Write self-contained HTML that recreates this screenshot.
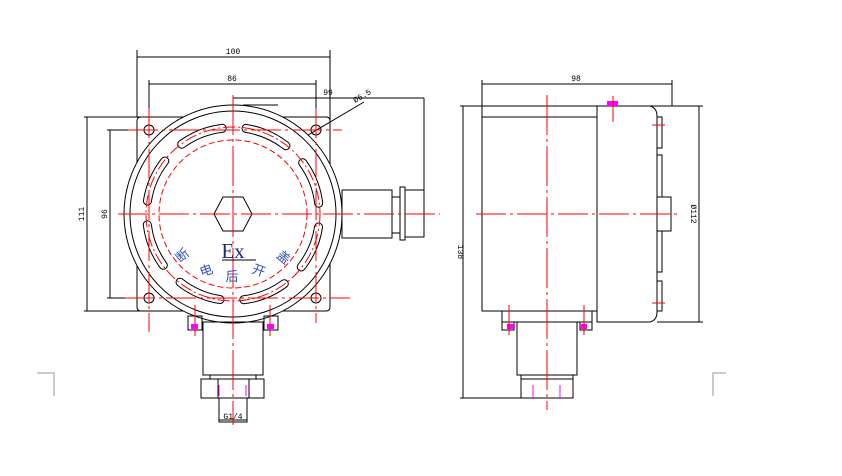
<!DOCTYPE html>
<html><head><meta charset="utf-8"><style>
html,body{margin:0;padding:0;background:#fff;width:842px;height:476px;overflow:hidden}
svg{display:block}
text{font-family:"Liberation Mono",monospace}
</style></head><body>
<svg width="842" height="476" viewBox="0 0 842 476" xmlns="http://www.w3.org/2000/svg">
<g fill="none" stroke="#000" stroke-width="1">
<polyline points="37,373 54,373 54,396" stroke="#999"/>
<polyline points="726,373 713,373 713,396" stroke="#999"/>

<line x1="137" y1="57" x2="330" y2="57"/>
<line x1="137" y1="50" x2="137" y2="117"/>
<line x1="330" y1="50" x2="330" y2="120"/>
<line x1="149" y1="84" x2="316" y2="84"/>
<line x1="149" y1="80" x2="149" y2="125"/>
<line x1="316" y1="80" x2="316" y2="125"/>
<line x1="233" y1="98" x2="424" y2="98"/>
<line x1="424" y1="98" x2="424" y2="237"/>
<line x1="233" y1="95" x2="233" y2="105"/>
<line x1="243" y1="105" x2="278" y2="105"/>
<line x1="364" y1="102" x2="303" y2="138"/>
<line x1="87" y1="117" x2="87" y2="311"/>
<line x1="84" y1="117" x2="140" y2="117"/>
<line x1="84" y1="311" x2="140" y2="311"/>
<line x1="110" y1="130" x2="110" y2="298"/>
<line x1="107" y1="130" x2="145" y2="130"/>
<line x1="107" y1="298" x2="145" y2="298"/>

<path d="M141,117 L326,117 Q330,117 330,121 L330,307 Q330,311 326,311 L141,311 Q137,311 137,307 L137,121 Q137,117 141,117Z"/>
<circle cx="233" cy="214" r="109" fill="#fff"/>
<circle cx="233" cy="214" r="103"/>
<circle cx="149" cy="130" r="5"/><circle cx="316" cy="130" r="5"/>
<circle cx="149" cy="298" r="5"/><circle cx="316" cy="298" r="5"/>
<polygon points="214,214 223,197 243,197 252,214 243,231 223,231"/>
<rect x="342" y="190" width="50" height="48" fill="#fff"/>
<rect x="392" y="197" width="8" height="36"/>
<rect x="400" y="187" width="5" height="53"/>
<rect x="405" y="190" width="19" height="47"/>
<rect x="188" y="316" width="14" height="14"/>
<rect x="264" y="316" width="14" height="14"/>
<rect x="203" y="322" width="60" height="53"/>
<rect x="210" y="375" width="46" height="4"/>
<rect x="201" y="379" width="63" height="19"/>
<line x1="218" y1="379" x2="218" y2="398"/><line x1="249" y1="379" x2="249" y2="398"/>
<rect x="219" y="398" width="28" height="24"/>
<line x1="219" y1="420" x2="247" y2="420"/>
</g>
<g fill="none" stroke-linecap="round">
<g id="sl">
<path d="M222.2,128.3 A86.5,86.5 0 0 0 181.7,144.3" stroke="#000" stroke-width="9"/>
<path d="M222.2,128.3 A86.5,86.5 0 0 0 181.7,144.3" stroke="#fff" stroke-width="7"/>
</g>
<use href="#sl" transform="rotate(45 233 214)"/>
<use href="#sl" transform="rotate(90 233 214)"/>
<use href="#sl" transform="rotate(135 233 214)"/>
<use href="#sl" transform="rotate(180 233 214)"/>
<use href="#sl" transform="rotate(225 233 214)"/>
<use href="#sl" transform="rotate(270 233 214)"/>
<use href="#sl" transform="rotate(315 233 214)"/>
</g>
<g stroke="#f00" stroke-width="1" fill="none">
<circle cx="233" cy="214" r="87" stroke-dasharray="12,3,2,3"/>
<circle cx="233" cy="214" r="74" stroke-dasharray="6,3"/>
<line x1="118" y1="214" x2="440" y2="214" stroke-dasharray="30,4,3,4"/>
<line x1="233" y1="95" x2="233" y2="425" stroke-dasharray="40,4,3,4"/>
<line x1="128" y1="130" x2="342" y2="130" stroke-dasharray="30,4,3,4"/>
<line x1="125" y1="298" x2="350" y2="298" stroke-dasharray="30,4,3,4"/>
<line x1="149" y1="108" x2="149" y2="332" stroke-dasharray="30,4,3,4"/>
<line x1="316" y1="108" x2="316" y2="323" stroke-dasharray="30,4,3,4"/>
<line x1="195" y1="305" x2="195" y2="336"/><line x1="270" y1="305" x2="270" y2="336"/>
</g>
<g stroke="#f0f"><line x1="219" y1="385" x2="219" y2="396"/><line x1="246" y1="385" x2="246" y2="396"/></g>
<g fill="#f0f"><rect x="191" y="324" width="7" height="5"/><rect x="267" y="324" width="7" height="5"/></g>
<text x="233" y="54" font-size="8" text-anchor="middle">100</text>
<text x="232" y="81" font-size="8" text-anchor="middle">86</text>
<text x="328" y="95" font-size="8" text-anchor="middle">99</text>
<text x="355" y="103" font-size="8" transform="rotate(-30 355 103)">Ø6.5</text>
<text x="84" y="214" font-size="8" text-anchor="middle" transform="rotate(-90 84 214)">111</text>
<text x="107" y="214" font-size="8" text-anchor="middle" transform="rotate(-90 107 214)">96</text>
<text x="233" y="419" font-size="8" text-anchor="middle">G1/4</text>
<text x="233" y="258" font-size="21" text-anchor="middle" fill="#1a2a80" style="font-family:'Liberation Serif',serif">Ex</text>
<line x1="222" y1="260" x2="256" y2="260" stroke="#000"/>
<g font-size="13" fill="#3050c0" style="font-family:'Liberation Sans','Noto Sans CJK SC',sans-serif" text-anchor="middle">
<text x="182" y="260" transform="rotate(-40 182 255)">断</text>
<text x="206" y="275" transform="rotate(-20 206 270)">电</text>
<text x="232" y="281">后</text>
<text x="259" y="275" transform="rotate(20 259 270)">开</text>
<text x="284" y="262" transform="rotate(40 284 257)">盖</text>
</g>

<g fill="none" stroke="#000" stroke-width="1">
<line x1="482" y1="84" x2="672" y2="84"/>
<line x1="482" y1="80" x2="482" y2="106"/>
<line x1="672" y1="80" x2="672" y2="106"/>
<line x1="460" y1="106" x2="703" y2="106"/>
<line x1="463" y1="106" x2="463" y2="398"/>
<line x1="460" y1="398" x2="530" y2="398"/>
<line x1="657" y1="322" x2="703" y2="322"/>
<line x1="699" y1="106" x2="699" y2="322"/>
<rect x="482" y="106" width="115" height="205"/>
<line x1="482" y1="117" x2="597" y2="117"/>
<path d="M597,106 L650,106 Q657,108 657,116 L657,312 Q657,320 650,322 L597,322 Z"/>
<path d="M657,117 h5 v31 h-5 M657,155 h5 v42 M657,197 h14 v34 h-14 M662,231 v41 h-5 M657,281 h5 v30 h-5"/>
<rect x="502" y="311" width="90" height="11"/>
<rect x="502" y="322" width="12" height="8"/>
<rect x="580" y="322" width="12" height="8"/>
<rect x="517" y="322" width="60" height="53"/>
<rect x="521" y="375" width="52" height="4"/>
<rect x="521" y="379" width="52" height="19"/>
</g>
<rect x="607" y="101" width="11" height="5" fill="#f0f"/>
<rect x="507" y="324" width="7" height="5" fill="#f0f"/>
<rect x="580" y="324" width="7" height="5" fill="#f0f"/>
<g stroke="#f0f"><line x1="533" y1="385" x2="533" y2="398"/><line x1="560" y1="385" x2="560" y2="398"/></g>
<g stroke="#f00" fill="none">
<line x1="547" y1="95" x2="547" y2="410" stroke-dasharray="40,4,3,4"/>
<line x1="476" y1="214" x2="678" y2="214" stroke-dasharray="30,4,3,4"/>
<line x1="613" y1="96" x2="613" y2="122"/>
<line x1="652" y1="125" x2="665" y2="125"/><line x1="652" y1="303" x2="665" y2="303"/>
<line x1="509" y1="305" x2="509" y2="335"/><line x1="584" y1="305" x2="584" y2="335"/>
</g>
<text x="576" y="81" font-size="8" text-anchor="middle">98</text>
<text x="458" y="252" font-size="8" text-anchor="middle" transform="rotate(90 458 252)">138</text>
<text x="691" y="214" font-size="8" text-anchor="middle" transform="rotate(90 691 214)">Ø112</text>
</svg>
</body></html>
